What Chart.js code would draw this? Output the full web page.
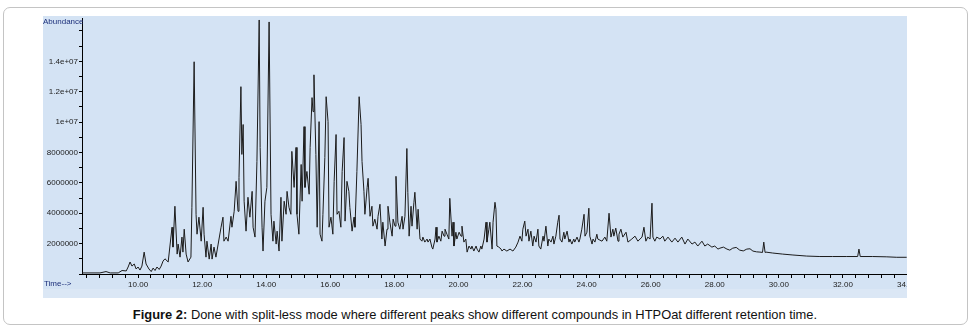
<!DOCTYPE html>
<html>
<head>
<meta charset="utf-8">
<script src="https://cdn.jsdelivr.net/npm/chart.js@4.4.1/dist/chart.umd.min.js"></script>
<style>
html,body{margin:0;padding:0;background:#fff;width:976px;height:332px;overflow:hidden;}
#frame{position:absolute;left:3px;top:7px;width:965px;height:318px;border:1px solid #c4c4c4;border-radius:7px;box-sizing:border-box;}
#panel{position:absolute;left:43px;top:16px;width:864px;height:282px;background:#d4e3f4;overflow:hidden;}
#band{position:absolute;left:0;top:273px;width:864px;height:9px;background:#dbe7f5;}
#chart{position:absolute;left:0;top:0;}
.lab{position:absolute;font-family:'Liberation Sans',Arial,sans-serif;font-size:8px;color:#1c2f7a;white-space:nowrap;line-height:10px;}
#caption{position:absolute;left:43px;top:307px;width:864px;text-align:center;font-family:'Liberation Sans',Arial,sans-serif;font-size:12.9px;color:#111;white-space:nowrap;}
</style>
</head>
<body>
<div id="frame"></div>
<div id="panel">
  <div id="band"></div>
  <canvas id="chart" width="864" height="282"></canvas>
  <span class="lab" style="left:0px;top:1px;">Abundance</span>
  <span class="lab" style="left:1px;top:263px;">Time--&gt;</span>
</div>
<div id="caption"><b>Figure 2:</b> Done with split-less mode where different peaks show different compounds in HTPOat different retention time.</div>
<script>
// Retention time (min), abundance (millions of counts)
const earlyElution = [
  [8.25,0.07],[8.81,0.07],[9.00,0.16],[9.13,0.07],[9.38,0.07],[9.50,0.23],[9.63,0.20],[9.69,0.46],
  [9.75,0.79],[9.81,0.52],[9.88,0.66],[9.94,0.33],[10.00,0.46],[10.06,0.26],[10.12,0.52],[10.19,1.44],
  [10.25,0.66],[10.34,0.33],[10.41,0.16],[10.47,0.39],[10.53,0.23],[10.59,0.46],[10.66,0.30],[10.72,0.52],
  [10.78,0.85],[10.84,1.00],[10.94,0.79]
];
const cluster11to13 = [
  [11.06,3.08],[11.09,1.77],[11.15,4.46],[11.22,1.31],[11.25,1.97],[11.31,1.11],[11.37,2.43],[11.40,1.44],
  [11.44,2.95],[11.50,1.31],[11.56,0.79],[11.65,1.11],[11.68,4.39],[11.75,13.97],[11.81,3.93],[11.84,2.62],
  [11.90,3.74],[11.97,2.16],[12.03,4.39],[12.06,2.62],[12.12,1.11],[12.15,2.16],[12.22,0.98],[12.28,1.97],
  [12.31,0.98],[12.37,1.77],[12.43,1.11],[12.50,1.97],[12.59,3.08],[12.65,3.74],[12.68,2.16],[12.75,2.43],
  [12.81,2.16],[12.90,3.80],[12.93,3.08]
];
const cluster13to15 = [
  [13.00,4.13],[13.06,6.10],[13.12,4.13],[13.15,6.36],[13.21,12.33],[13.24,7.87],[13.28,9.84],[13.31,4.79],
  [13.37,2.82],[13.43,5.05],[13.49,3.74],[13.56,5.44],[13.59,3.08],[13.65,2.43],[13.71,7.41],[13.78,16.72],
  [13.81,8.33],[13.87,3.08],[13.90,1.51],[13.96,4.79],[14.02,5.70],[14.09,16.59],[14.15,3.93],[14.21,2.16],
  [14.24,3.48],[14.31,1.97],[14.34,2.82],[14.40,1.51],[14.46,5.05],[14.49,2.16],[14.56,4.79],[14.62,3.93],
  [14.65,5.44],[14.71,4.39],[14.77,3.93],[14.80,8.07],[14.87,5.70],[14.93,8.33],[14.96,3.93]
];
const cluster15to17 = [
  [15.02,2.62],[15.09,7.21],[15.12,4.79],[15.18,9.70],[15.21,5.70],[15.27,6.75],[15.34,5.25],[15.37,8.33],
  [15.43,11.61],[15.46,10.69],[15.49,13.11],[15.55,7.87],[15.59,3.08],[15.65,10.03],[15.68,2.62],[15.74,2.16],
  [15.77,3.93],[15.83,7.67],[15.87,11.67],[15.93,10.03],[15.96,3.08],[16.02,3.74],[16.08,2.62],[16.12,6.10],
  [16.18,9.18],[16.21,3.93],[16.27,4.13],[16.33,3.08],[16.37,6.75],[16.43,8.98],[16.46,3.48],[16.52,6.10],
  [16.58,5.44],[16.61,4.39],[16.68,2.82],[16.74,3.74],[16.77,3.08],[16.83,6.75],[16.90,11.67],[16.96,9.84],
  [16.99,7.41]
];
const cluster17to19 = [
  [17.05,5.44],[17.08,3.93],[17.15,5.70],[17.18,6.30],[17.24,3.80],[17.30,4.46],[17.33,3.15],[17.39,3.61],
  [17.46,2.95],[17.49,3.80],[17.55,4.59],[17.61,2.30],[17.64,3.41],[17.71,1.84],[17.77,2.95],[17.80,4.46],
  [17.86,3.41],[17.93,2.49],[17.96,3.61],[18.02,3.15],[18.05,6.43],[18.11,3.41],[18.17,2.95],[18.24,3.80],
  [18.27,2.95],[18.33,3.80],[18.39,8.26],[18.42,5.38],[18.46,2.49],[18.52,4.46],[18.55,3.15],[18.61,4.72],
  [18.64,5.38],[18.71,2.95],[18.74,4.26],[18.80,2.30],[18.86,2.16],[18.89,2.43],[18.95,2.10]
];
const region19to21 = [
  [19.02,2.30],[19.05,2.10],[19.11,2.30],[19.17,1.77],[19.20,1.64],[19.27,2.30],[19.30,3.08],[19.33,2.10],
  [19.39,2.49],[19.45,2.16],[19.49,2.82],[19.55,2.49],[19.58,2.95],[19.64,2.62],[19.70,2.30],[19.73,4.98],
  [19.80,2.49],[19.83,3.41],[19.86,1.84],[19.92,2.75],[19.95,2.30],[20.02,2.75],[20.08,2.49],[20.11,3.15],
  [20.17,2.10],[20.23,2.30],[20.27,1.44],[20.33,1.84],[20.39,1.64],[20.42,1.84],[20.48,1.51],[20.55,1.84],
  [20.58,1.64],[20.64,1.44],[20.70,1.84],[20.73,1.64],[20.80,2.30],[20.86,3.41],[20.89,2.10],[20.95,2.95],
  [20.98,3.41],[21.05,1.64],[21.08,3.41],[21.14,4.72],[21.17,4.26],[21.20,1.84],[21.26,1.77],[21.33,1.64],
  [21.36,1.51],[21.42,1.64]
];
const region21to26 = [
  [21.51,1.51],[21.61,1.64],[21.70,1.51],[21.79,1.77],[21.86,2.10],[21.92,2.49],[21.98,2.16],[22.01,2.95],
  [22.07,3.48],[22.11,2.49],[22.17,2.95],[22.20,2.16],[22.26,2.82],[22.32,1.84],[22.36,2.49],[22.42,2.10],
  [22.48,2.95],[22.51,1.84],[22.57,1.64],[22.64,2.49],[22.67,2.16],[22.73,3.15],[22.79,1.84],[22.82,2.30],
  [22.89,2.10],[22.95,2.49],[22.98,1.97],[23.04,2.49],[23.10,3.41],[23.14,3.87],[23.17,2.30],[23.23,2.10],
  [23.29,2.75],[23.32,2.30],[23.39,2.82],[23.45,2.10],[23.48,2.30],[23.54,1.97],[23.60,2.30],[23.63,2.10],
  [23.70,2.43],[23.76,2.10],[23.79,2.30],[23.85,2.95],[23.92,3.93],[23.95,2.49],[24.01,2.75],[24.07,4.33],
  [24.10,2.49],[24.17,1.97],[24.20,2.30],[24.26,2.10],[24.32,2.62],[24.35,2.30],[24.48,2.16],[24.57,2.43],
  [24.63,2.16],[24.70,4.00],[24.76,2.43],[24.82,2.95],[24.85,2.49],[24.91,3.02],[24.98,2.16],[25.01,2.62],
  [25.07,2.95],[25.13,2.43],[25.23,2.75],[25.29,2.10],[25.41,2.30],[25.51,2.49],[25.60,2.16],[25.73,2.43],
  [25.79,3.08],[25.85,2.16],[25.91,2.43],[25.98,2.30],[26.04,4.66],[26.07,2.43],[26.13,2.16],[26.19,2.43],
  [26.29,2.30],[26.38,2.49],[26.44,2.16]
];
const tailRegion = [
  [26.54,2.43],[26.66,2.10],[26.76,2.36],[26.85,2.10],[26.97,2.43],[27.07,1.97],[27.16,2.30],[27.29,1.97],
  [27.38,2.10],[27.47,1.84],[27.60,2.16],[27.69,1.84],[27.78,1.97],[27.91,1.77],[28.00,1.84],[28.10,1.64],
  [28.16,1.70],[28.27,1.77],[28.38,1.64],[28.47,1.57],[28.56,1.70],[28.67,1.75],[28.78,1.57],[28.89,1.52],
  [29.00,1.64],[29.10,1.66],[29.19,1.51],[29.30,1.46],[29.41,1.44],[29.49,1.42],[29.53,2.10],[29.57,1.42],
  [29.60,1.44],[29.81,1.38],[30.12,1.31],[30.44,1.25],[30.87,1.18],[31.28,1.15],[31.68,1.15],[32.12,1.15],
  [32.46,1.15],[32.50,1.64],[32.54,1.15],[32.93,1.15],[33.37,1.13],[33.68,1.10],[33.99,1.10]
];

// Axis ticks
const xTickValues = [10,12,14,16,18,20,22,24,26,28,30,32,34];
const xTickLabels = ["10.00","12.00","14.00","16.00","18.00","20.00","22.00","24.00","26.00","28.00","30.00","32.00","34.00"];
const yTickValues = [2,4,6,8,10,12,14];
const yTickLabels = ["2000000","4000000","6000000","8000000","1e+07","1.2e+07","1.4e+07"];

const points = [].concat(earlyElution, cluster11to13, cluster13to15, cluster15to17,
                         cluster17to19, region19to21, region21to26, tailRegion)
                 .map(p => ({x: p[0], y: p[1]}));

const tickFont = {family: "'Liberation Sans',Arial,sans-serif", size: 8};
function labelFor(v, vals, labs) {
  for (let i = 0; i < vals.length; i++) if (Math.abs(v - vals[i]) < 1e-6) return labs[i];
  return '';
}

new Chart(document.getElementById('chart').getContext('2d'), {
  type: 'line',
  data: {datasets: [{data: points, borderColor: '#1b1b1b', borderWidth: 1, pointRadius: 0, tension: 0, fill: false}]},
  options: {
    responsive: false, animation: false, devicePixelRatio: 1,
    layout: {padding: {top: 2, left: 0, right: 0, bottom: 0}},
    plugins: {legend: {display: false}, tooltip: {enabled: false}},
    scales: {
      x: {
        type: 'linear', min: 8.25, max: 34,
        afterFit(s) { s.height = 24; s.paddingLeft = 0; s.paddingRight = 0; },
        grid: {drawOnChartArea: false, drawTicks: true, tickLength: 4, tickColor: '#000', tickWidth: 1},
        border: {display: true, color: '#000', width: 1},
        ticks: {stepSize: 0.4, includeBounds: false, autoSkip: false, maxRotation: 0, minRotation: 0,
                padding: 2, color: '#222', font: tickFont,
                callback: v => labelFor(v, xTickValues, xTickLabels)}
      },
      y: {
        type: 'linear', min: 0, max: 16.85,
        afterFit(s) { s.width = 39; s.paddingTop = 0; s.paddingBottom = 0; },
        grid: {drawOnChartArea: false, drawTicks: true, tickLength: 3, tickColor: '#000', tickWidth: 1},
        border: {display: true, color: '#000', width: 1},
        ticks: {stepSize: 1, includeBounds: false, autoSkip: false, padding: 1, color: '#222', font: tickFont,
                callback: v => labelFor(v, yTickValues, yTickLabels)}
      }
    }
  }
});
</script>
</body>
</html>
